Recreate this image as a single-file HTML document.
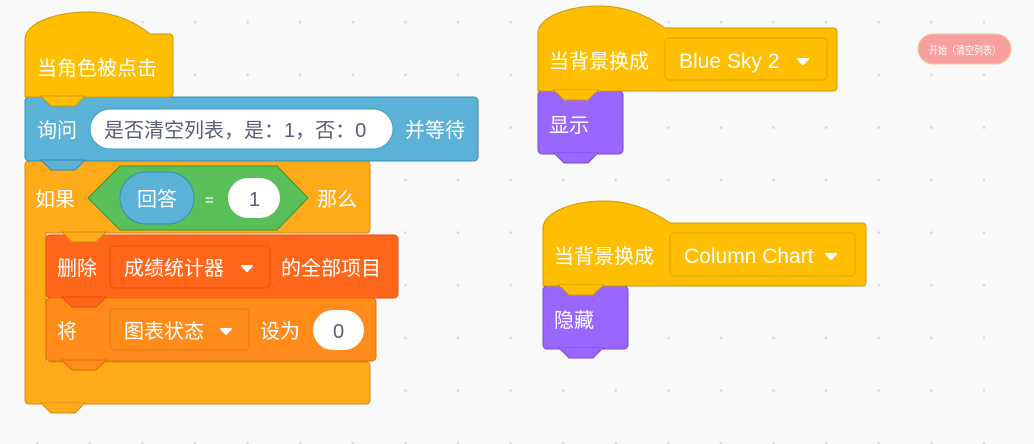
<!DOCTYPE html>
<html><head><meta charset="utf-8"><style>
html,body{margin:0;padding:0;}
body{width:1034px;height:444px;overflow:hidden;background-color:#f9f9f9;
background-image:radial-gradient(circle,#d9d9d9 1.1px,transparent 1.6px);
background-size:52.6px 52.6px;background-position:11px -4px;}
svg{position:absolute;left:0;top:0;}
text{font-family:"Liberation Sans","Noto Sans CJK SC",sans-serif;font-size:20px;fill:#fff;}
.d{fill:#575e75;}
.l{font-size:21px;}
</style></head><body>
<svg width="1034" height="444" viewBox="0 0 1034 444">
<path d="M25,165 Q25,161 29,161 L366,161 Q370,161 370,165 L370,229 Q370,233 366,233 L46,233 L46,362 L366,362 Q370,362 370,366 L370,400 Q370,404 366,404 L29,404 Q25,404 25,400 Z" fill="#ffab19" stroke="#cf8b17" stroke-width="1"/>
<rect x="25" y="97" width="453" height="64" rx="4" fill="#5cb1d6" stroke="#2e8eb8"/>
<path d="M25,97 L25,40 C25,22 58,12 88,12 C115,12 135,22 150,34 L169,34 Q173,34 173,38 L173,93 Q173,97 169,97 Z" fill="#ffbf00" stroke="#cc9900"/>
<rect x="46" y="235" width="352" height="63" rx="4" fill="#ff661a" stroke="#e64d00"/>
<rect x="46" y="298" width="330" height="63" rx="4" fill="#ff8c1a" stroke="#db6e00"/>
<polygon points="41,96 51,106 75,106 85,96" fill="#ffbf00" stroke="#cc9900"/>
<polygon points="41,160 51,170 75,170 85,160" fill="#5cb1d6" stroke="#2e8eb8"/>
<polygon points="62,232 72,242 96,242 106,232" fill="#ffab19" stroke="#cf8b17"/>
<polygon points="62,297 72,307 96,307 106,297" fill="#ff661a" stroke="#e64d00"/>
<polygon points="62,360 72,370 96,370 106,360" fill="#ff8c1a" stroke="#db6e00"/>
<polygon points="41,403 51,413 75,413 85,403" fill="#ffab19" stroke="#cf8b17"/>
<line x1="42" y1="404" x2="84" y2="404" stroke="#ffab19" stroke-width="2"/>

<text x="37" y="75">当角色被点击</text>
<text x="37" y="137">询问</text>
<rect x="90" y="109" width="303" height="40" rx="20" fill="#fff" stroke="#3d9fc8"/>
<text x="104" y="137" class="d">是否清空列表，是：1，否：0</text>
<text x="405" y="137">并等待</text>

<text x="35" y="206">如果</text>
<polygon points="88,198 120,166 277,166 308,198 277,230 120,230" fill="#59c059" stroke="#389438"/>
<rect x="120" y="172" width="74" height="52" rx="26" fill="#5cb1d6" stroke="#2e8eb8"/>
<text x="137" y="206">回答</text>
<text x="205" y="205" style="font-size:15px">=</text>
<rect x="228" y="178" width="52" height="40" rx="20" fill="#fff"/>
<text x="249" y="206" class="d">1</text>
<text x="317" y="206">那么</text>

<text x="57" y="275">删除</text>
<rect x="110" y="246" width="160" height="42" rx="4" fill="#ff661a" stroke="#db5a10"/>
<text x="124" y="275">成绩统计器</text>
<polygon points="242,266 252,266 247,271" fill="#fff" stroke="#fff" stroke-width="2" stroke-linejoin="round"/>
<text x="281" y="275">的全部项目</text>

<text x="57" y="338">将</text>
<rect x="110" y="309" width="139" height="41" rx="4" fill="#ff8c1a" stroke="#e07a10"/>
<text x="124" y="338">图表状态</text>
<polygon points="221,329 231,329 226,334" fill="#fff" stroke="#fff" stroke-width="2" stroke-linejoin="round"/>
<text x="260" y="338">设为</text>
<rect x="313" y="310" width="51" height="40" rx="20" fill="#fff"/>
<text x="333" y="338" class="d">0</text>

<rect x="538" y="91" width="85" height="63" rx="4" fill="#9966ff" stroke="#774dcb"/>
<polygon points="554,153 564,163 588,163 598,153" fill="#9966ff" stroke="#774dcb"/>
<line x1="555" y1="154" x2="597" y2="154" stroke="#9966ff" stroke-width="2"/>
<path d="M538,91 L538,34 C538,16 570,6 600,6 C627,6 648,16 665,28 L833,28 Q837,28 837,32 L837,87 Q837,91 833,91 Z" fill="#ffbf00" stroke="#cc9900"/>
<polygon points="554,90 564,100 588,100 598,90" fill="#ffbf00" stroke="#cc9900"/>
<line x1="555" y1="91" x2="597" y2="91" stroke="#ffbf00" stroke-width="2"/>
<text x="549" y="68">当背景换成</text>
<rect x="665" y="38" width="162" height="42" rx="4" fill="#ffbf00" stroke="#d9a300"/>
<text x="679" y="68" class="l">Blue Sky 2</text>
<polygon points="798,59 808,59 803,64" fill="#fff" stroke="#fff" stroke-width="2" stroke-linejoin="round"/>
<text x="549" y="132">显示</text>

<rect x="543" y="286" width="85" height="63" rx="4" fill="#9966ff" stroke="#774dcb"/>
<polygon points="559,348 569,358 593,358 603,348" fill="#9966ff" stroke="#774dcb"/>
<line x1="560" y1="349" x2="602" y2="349" stroke="#9966ff" stroke-width="2"/>
<path d="M543,286 L543,229 C543,211 575,201 605,201 C632,201 653,211 670,223 L862,223 Q866,223 866,227 L866,282 Q866,286 862,286 Z" fill="#ffbf00" stroke="#cc9900"/>
<polygon points="559,285 569,295 593,295 603,285" fill="#ffbf00" stroke="#cc9900"/>
<line x1="560" y1="286" x2="602" y2="286" stroke="#ffbf00" stroke-width="2"/>
<text x="554" y="263">当背景换成</text>
<rect x="670" y="233" width="185" height="43" rx="4" fill="#ffbf00" stroke="#d9a300"/>
<text x="684" y="263" class="l">Column Chart</text>
<polygon points="826,254 836,254 831,259" fill="#fff" stroke="#fff" stroke-width="2" stroke-linejoin="round"/>
<text x="554" y="327">隐藏</text>

<rect x="918" y="34" width="93" height="30" rx="15" fill="#f8a0a0" stroke="#f0c8a0"/>
<text x="929" y="54" style="font-size:11px" textLength="72" lengthAdjust="spacingAndGlyphs">开始（清空列表）</text>
</svg>
</body></html>
